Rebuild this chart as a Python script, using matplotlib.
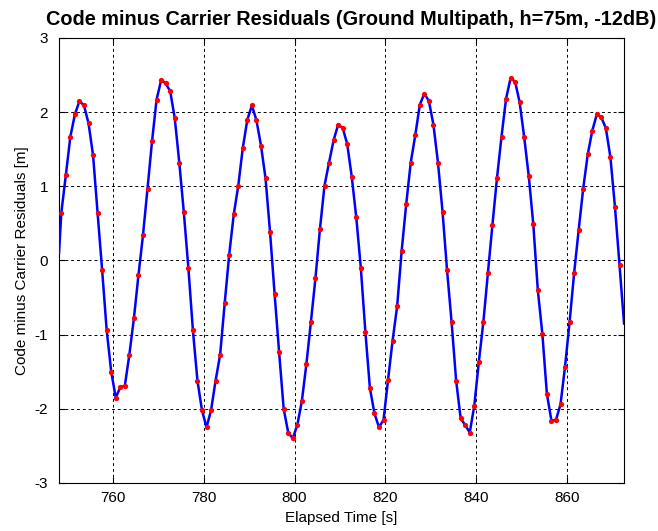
import numpy as np
import matplotlib
matplotlib.use("Agg")
import matplotlib.pyplot as plt

plt.rcParams['font.family'] = ['Liberation Sans', 'DejaVu Sans']
plt.rcParams['axes.unicode_minus'] = False

# 1 Hz samples of the code-minus-carrier residuals
t_first = 748.6
residuals = [
    0.64, 1.15, 1.67, 1.97, 2.15, 2.09, 1.85, 1.42, 0.64, -0.13,
    -0.94, -1.50, -1.85, -1.71, -1.69, -1.27, -0.78, -0.20, 0.34, 0.97,
    1.61, 2.17, 2.43, 2.39, 2.28, 1.92, 1.32, 0.65, -0.10, -0.94,
    -1.62, -2.02, -2.25, -2.02, -1.62, -1.27, -0.58, 0.08, 0.62, 1.01,
    1.52, 1.90, 2.09, 1.89, 1.55, 1.11, 0.38, -0.45, -1.24, -2.00,
    -2.32, -2.40, -2.22, -1.90, -1.40, -0.83, -0.24, 0.43, 1.01, 1.32,
    1.62, 1.83, 1.79, 1.57, 1.13, 0.58, -0.10, -0.96, -1.72, -2.06,
    -2.25, -2.15, -1.61, -1.08, -0.62, 0.13, 0.76, 1.32, 1.69, 2.10,
    2.25, 2.15, 1.83, 1.32, 0.66, -0.13, -0.83, -1.62, -2.13, -2.22,
    -2.32, -1.96, -1.37, -0.83, -0.17, 0.48, 1.11, 1.67, 2.18, 2.46,
    2.41, 2.13, 1.66, 1.14, 0.49, -0.40, -0.99, -1.80, -2.16, -2.15,
    -1.94, -1.43, -0.83, -0.17, 0.41, 0.97, 1.43, 1.75, 1.97, 1.93,
    1.78, 1.39, 0.72, -0.06,
]
# the continuous trace runs a little past the first and last sample
line_start = (748.1, 0.10)
line_end = (872.6, -0.85)

x_ticks = [760, 780, 800, 820, 840, 860]
y_ticks = [-3, -2, -1, 0, 1, 2, 3]

t = t_first + np.arange(len(residuals))
t_line = np.concatenate([[line_start[0]], t, [line_end[0]]])
v_line = np.concatenate([[line_start[1]], residuals, [line_end[1]]])

fig = plt.figure(figsize=(6.58, 5.31), dpi=100)
ax = fig.add_axes([0.0897, 0.0905, 0.8587, 0.838])

ax.plot(t_line, v_line, color='#0000ff', lw=1.8, zorder=3)
ax.plot(t, residuals, 'o', color='#ff0000', ms=3.8, mec='none', zorder=4)

ax.set_xlim(line_start[0], line_end[0])
ax.set_ylim(-3, 3)
ax.set_xticks(x_ticks)
ax.set_yticks(y_ticks)
ax.tick_params(direction='in', top=True, right=True, length=4, labelsize=11)
ax.tick_params(axis='x', pad=6)
ax.tick_params(axis='y', pad=8)
ax.grid(True, color='black', linestyle=(0, (3, 3)), lw=0.7)

ax.set_xlabel('Elapsed Time [s]', fontsize=11, labelpad=4)
ax.set_ylabel('Code minus Carrier Residuals [m]', fontsize=11, labelpad=4)
ax.set_title('Code minus Carrier Residuals (Ground Multipath, h=75m, -12dB)',
             fontsize=14.3, fontweight='bold', pad=9, x=0.517)

fig.savefig('out.png', dpi=100)
